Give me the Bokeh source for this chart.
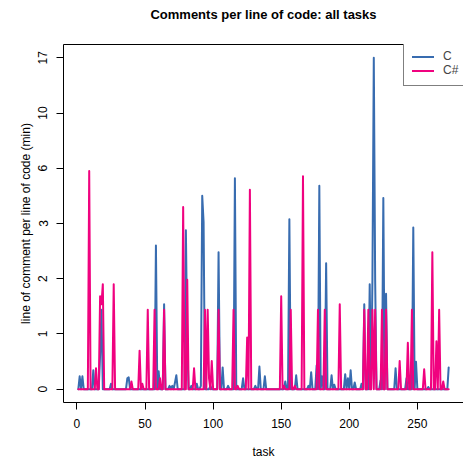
import math
from bokeh.plotting import figure
from bokeh.models import Range1d, FixedTicker, Legend, LegendItem, LinearAxis
from bokeh.embed import file_html
from bokeh.resources import INLINE

# ---- data ----
c_values = [
    0, 0.12, 0, 0.12, 0, 0, 0, 0, 0, 0,
    0, 0.18, 0, 0, 0, 0, 0.35, 1.0, 0, 0,
    0, 0, 0, 0, 0.05, 0, 0, 0, 0, 0,
    0, 0, 0, 0, 0, 0, 0.1, 0.11, 0, 0,
    0, 0, 0, 0, 0, 0, 0, 0, 0, 0,
    0, 0, 0, 0, 0, 0, 0, 2.5, 0, 0.17,
    0, 0, 0, 1.1, 0, 0, 0, 0.03, 0, 0.03,
    0, 0.06, 0.13, 0, 0, 0, 0, 0, 0, 3.0,
    0.5, 0, 0, 0.03, 0, 0, 0, 0.05, 0, 0,
    0.03, 4.4, 3.3, 0, 0, 0, 0, 0.03, 0, 0,
    0, 0, 0, 2.3, 0, 0, 0.21, 0, 0, 0,
    0.03, 0, 0, 0, 0, 5.3, 0, 0, 0, 0,
    0, 0.1, 0, 0, 0, 0, 0, 0, 0, 0,
    0.03, 0, 0, 0.22, 0, 0, 0, 0.12, 0, 0,
    0, 0, 0, 0, 0, 0, 0, 0, 0, 0,
    0, 0, 0.07, 0, 0, 3.4, 0, 0, 0, 0,
    0.13, 0, 0, 0, 0, 0, 0, 0, 0, 0.03,
    0, 0.16, 0, 0, 0, 0.23, 0, 4.9, 0, 0.12,
    0, 0, 2.0, 0, 0, 0, 0.13, 0, 0.04, 0,
    0, 0, 0, 0, 0, 0, 0.14, 0, 0.1, 0,
    0.18, 0, 0, 0.06, 0, 0, 0, 0, 0.05, 0,
    1.1, 0, 0, 0, 1.5, 0, 1.6, 17.0, 1.6, 0,
    0, 0, 0.08, 0, 4.3, 0, 1.3, 0, 0, 0,
    0, 0, 0, 0.2, 0, 0, 0, 0, 0, 0,
    0, 0.1, 0, 0, 0, 0, 3.1, 0, 0.27, 0,
    0, 0, 0, 0, 0, 0, 0, 0.02, 0, 0,
    0, 0, 0, 0, 0, 0, 0, 0, 0, 0,
    0, 0, 0.21,
]

csharp_values = [
    0, 0, 0, 0, 0, 0, 0, 0, 5.7, 0,
    0, 0, 0, 0.2, 0, 0, 1.25, 1.1, 1.5, 0,
    0, 0, 0, 0, 0, 0, 1.5, 0, 0, 0,
    0, 0, 0, 0, 0, 0, 0, 0, 0, 0.07,
    0, 0, 0, 0, 0, 0.4, 0, 0.05, 0, 0,
    0, 1.0, 0, 0, 0, 0, 1.0, 0, 0, 0,
    0.1, 0, 0, 1.0, 0, 0, 0, 0, 0, 0,
    0, 0, 0, 0, 0, 0, 0, 3.9, 0, 0,
    1.6, 0, 0, 0, 0, 0.2, 0, 0, 0, 0,
    0, 0, 0, 1.0, 0, 1.0, 0.1, 0, 0.28, 0,
    0, 0, 0, 1.0, 0, 0, 0, 0, 0, 0,
    0, 0, 0, 0, 1.0, 0, 0, 0.03, 0, 0,
    0, 0, 0, 0, 0.57, 0, 4.7, 0, 0, 0,
    0, 0, 0, 0, 0, 0, 0, 0, 0, 0,
    0, 0, 0, 0, 0, 0, 0, 0, 0, 1.25,
    0, 0.03, 0, 0, 0, 0, 1.0, 0, 0, 0.03,
    0, 0, 0, 0, 0, 5.4, 0, 0, 0, 0,
    0, 0, 0, 0, 0, 0, 1.0, 0, 0, 0,
    0, 1.0, 0, 0, 0, 0, 0, 0, 0, 0,
    0, 0, 1.1, 0, 0, 0, 0, 0, 0, 0,
    0, 0, 0, 0, 0, 0, 0, 0, 0, 0,
    1.0, 0, 0, 1.0, 0, 0, 1.0, 0, 1.0, 0,
    0, 0, 0, 1.0, 0, 0, 1.0, 0, 0, 0,
    0, 0, 0, 0, 0, 0, 0.28, 0, 0, 0,
    0, 0, 0.5, 0, 0, 1.0, 0, 0, 0, 0,
    0, 0, 0, 0, 0.19, 0, 0, 0, 0, 0,
    2.3, 0, 0, 0.52, 0, 1.0, 0, 0, 0.07, 0,
    0, 0, 0,
]

tasks = list(range(1, len(c_values) + 1))
series_names = ["C", "C#"]
series_colors = ["#386CB0", "#F0027F"]
x_ticks = [0, 50, 100, 150, 200, 250]
y_tick_labels = ["0", "1", "2", "3", "6", "10", "17"]
y_top_value = 17.0
title_text = "Comments per line of code: all tasks"

FONT = "Liberation Sans"

# log(1+v) scale, ticks evenly spaced in transformed units
n_steps = len(y_tick_labels) - 1
def tr(v):
    return n_steps * math.log1p(v) / math.log1p(y_top_value)

c_t = [tr(v) for v in c_values]
cs_t = [tr(v) for v in csharp_values]

n = len(tasks)
xpad = 0.04 * (n - 1)
ypad = 0.04 * n_steps

p = figure(width=463, height=465, output_backend="svg", toolbar_location=None,
           x_range=Range1d(1 - xpad, n + xpad), y_range=Range1d(-ypad, n_steps + ypad),
           min_border_left=63, min_border_right=0, min_border_top=44, min_border_bottom=63,
           title=title_text)

p.title.align = "center"
p.title.text_font = FONT
p.title.text_font_size = "13px"
p.title.text_font_style = "bold"
p.title.text_color = "black"
p.title.standoff = 0

p.outline_line_color = None
p.xgrid.visible = False
p.ygrid.visible = False
p.background_fill_color = "white"
p.border_fill_color = "white"

# axes
xa = p.xaxis[0]
xa.ticker = FixedTicker(ticks=x_ticks)
xa.axis_label = "task"
ya = p.yaxis[0]
ya.ticker = FixedTicker(ticks=list(range(len(y_tick_labels))))
ya.major_label_overrides = {i: lab for i, lab in enumerate(y_tick_labels)}
ya.major_label_orientation = "vertical"
ya.axis_label = "line of comment per line of code (min)"

for ax in (xa, ya):
    ax.axis_line_color = "black"
    ax.axis_line_width = 1
    ax.major_tick_line_color = "black"
    ax.major_tick_out = 7
    ax.major_tick_in = 0
    ax.minor_tick_line_color = None
    ax.major_label_text_font = FONT
    ax.major_label_text_font_size = "12px"
    ax.major_label_text_color = "black"
    ax.axis_label_text_font = FONT
    ax.axis_label_text_font_size = "12px"
    ax.axis_label_text_font_style = "normal"
    ax.axis_label_text_color = "black"

xa.major_label_standoff = 9
xa.axis_label_standoff = 14
ya.major_label_standoff = 9
ya.axis_label_standoff = 3

# top border of the plot box (blank spacer label keeps the title clear of the box)
top_axis = LinearAxis(ticker=FixedTicker(ticks=[]), axis_line_color="black",
                      major_tick_out=0, major_tick_in=0, minor_tick_line_color=None,
                      major_label_text_font_size="0px", major_label_standoff=0,
                      axis_label=" ", axis_label_standoff=6,
                      axis_label_text_font_size="12px")
p.add_layout(top_axis, "above")

rc = p.line(tasks, c_t, line_color=series_colors[0], line_width=2,
            line_join="round", line_cap="round")
rcs = p.line(tasks, cs_t, line_color=series_colors[1], line_width=2,
             line_join="round", line_cap="round")

legend = Legend(items=[LegendItem(label=series_names[0], renderers=[rc]),
                       LegendItem(label=series_names[1], renderers=[rcs])],
                location=(340, 316))
legend.border_line_color = "black"
legend.border_line_width = 1
legend.background_fill_color = "white"
legend.background_fill_alpha = 1.0
legend.padding = 8
legend.spacing = 0
legend.margin = 0
legend.glyph_width = 22
legend.glyph_height = 13
legend.label_height = 13
legend.label_standoff = 9
legend.label_text_font = FONT
legend.label_text_font_size = "12px"
legend.label_text_baseline = "middle"
p.add_layout(legend)

open("out.html", "w").write(file_html(p, INLINE))
